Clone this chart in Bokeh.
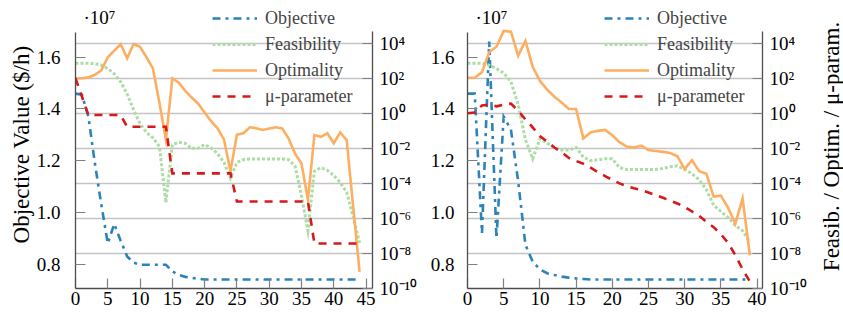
import math
from bokeh.plotting import figure
from bokeh.layouts import row
from bokeh.models import (Range1d, LogScale, LogAxis, FixedTicker, Grid, Legend,
                          LegendItem, Label, CustomJSTickFormatter, PrintfTickFormatter)
from bokeh.embed import file_html
from bokeh.resources import INLINE

FONT = "Liberation Serif"
BLUE = "#2b83ba"
GREEN = "#abdda4"
ORANGE = "#fdae61"
RED = "#d7191c"
AXIS_COLOR = "#4d4d4d"
TICK_COLOR = "#808080"
GRID_COLOR = "#c4c4c4"

# ---------------- data ----------------
# Objective value in units of 1e7 $/h; the other series as log10 of the value
series_names = ["Objective", "Feasibility", "Optimality", "\u03bc-parameter"]

# left run: iterations 0..44
objective_left = [1.459, 1.455, 1.37, 1.19, 1.03, 0.88, 0.956, 0.89, 0.83, 0.806,
                  0.798, 0.798, 0.798, 0.798, 0.798, 0.772, 0.758, 0.751, 0.747, 0.744,
                  0.741, 0.741, 0.741, 0.741, 0.741, 0.741, 0.741, 0.741, 0.741, 0.741,
                  0.741, 0.741, 0.741, 0.741, 0.741, 0.741, 0.741, 0.741, 0.741, 0.741,
                  0.741, 0.741, 0.741, 0.741, 0.741]
feasibility_left_log10 = [2.86, 2.86, 2.86, 2.83, 2.75, 2.55, 2.25, 1.8, 1.1, 0.2,
                          -0.6, -1.1, -1.4, -1.9, -5.1, -1.8, -1.65, -1.72, -2.0, -2.0,
                          -1.78, -1.98, -2.3, -2.8, -3.7, -2.8, -2.65, -2.61, -2.61, -2.61,
                          -2.61, -2.61, -2.61, -2.65, -3.0, -4.7, -6.7, -3.3, -3.1, -3.25,
                          -3.55, -3.95, -4.5, -5.9, -7.4]
optimality_left_log10 = [2.0, 2.0, 2.05, 2.2, 2.45, 3.2, 3.58, 3.94, 3.14, 3.96,
                         3.8, 3.2, 2.55, 0.6, -1.5, 2.0, 1.75, 1.28, 0.9, 0.55,
                         0.05, -0.45, -0.86, -1.5, -3.3, -1.22, -1.14, -0.8, -0.85, -0.95,
                         -0.87, -0.8, -0.86, -1.43, -2.3, -2.86, -4.95, -1.24, -1.34, -1.14,
                         -1.71, -1.09, -1.53, -5.3, -9.05]
mu_left_log10 = [2.0, 0.95, -0.1, -0.1, -0.1, -0.1, -0.1, -0.1, -0.77, -0.77,
                 -0.77, -0.77, -0.77, -0.77, -0.77, -3.43, -3.43, -3.43, -3.43, -3.43,
                 -3.43, -3.43, -3.43, -3.43, -3.43, -5.03, -5.03, -5.03, -5.03, -5.03,
                 -5.03, -5.03, -5.03, -5.03, -5.03, -5.03, -5.03, -7.43, -7.43, -7.43,
                 -7.43, -7.43, -7.43, -7.43, -7.43]

# right run: iterations 0..39
objective_right = [1.459, 1.459, 0.92, 1.66, 0.90, 1.37, 1.32, 1.12, 0.875, 0.81,
                   0.78, 0.765, 0.758, 0.752, 0.748, 0.745, 0.743, 0.741, 0.741, 0.741,
                   0.741, 0.741, 0.741, 0.741, 0.741, 0.741, 0.741, 0.741, 0.741, 0.741,
                   0.741, 0.741, 0.741, 0.741, 0.741, 0.741, 0.741, 0.741, 0.741, 0.741]
feasibility_right_log10 = [2.86, 2.86, 2.86, 2.75, 2.55, 2.3, 1.8, 0.5, -1.5, -2.6,
                           -1.45, -1.7, -1.95, -2.1, -2.1, -1.95, -2.5, -2.7, -2.65, -2.6,
                           -2.6, -3.1, -3.2, -3.2, -3.2, -3.2, -3.2, -3.15, -3.05, -3.0,
                           -3.2, -3.45, -3.8, -4.35, -5.25, -5.6, -5.95, -6.4, -6.7, -7.35]
optimality_right_log10 = [2.03, 2.03, 2.35, 3.5, 3.8, 4.7, 4.66, 3.29, 4.13, 2.66,
                          1.85, 1.35, 0.95, 0.62, 0.25, 0.25, -1.43, -1.09, -1.0, -0.95,
                          -1.25, -1.65, -1.9, -1.95, -1.85, -2.1, -2.15, -2.2, -2.27, -2.45,
                          -3.18, -2.67, -3.3, -3.45, -4.75, -4.7, -5.4, -6.3, -4.86, -8.1]
mu_right_log10 = [0.0, 0.05, 0.45, 0.5, 0.4, 0.5, 0.55, 0.15, -0.35, -0.8,
                  -1.3, -1.62, -1.95, -2.22, -2.55, -2.72, -2.88, -3.1, -3.35, -3.58,
                  -3.8, -4.0, -4.15, -4.28, -4.38, -4.52, -4.67, -4.82, -4.98, -5.15,
                  -5.35, -5.6, -5.85, -6.2, -6.5, -6.9, -7.4, -8.1, -8.9, -9.6]

x_ticks_left = [0, 5, 10, 15, 20, 25, 30, 35, 40, 45]
x_ticks_right = [0, 5, 10, 15, 20, 25, 30, 35, 40]
objective_ticks = [0.8, 1.0, 1.2, 1.4, 1.6]
log_ticks = [1e-10, 1e-8, 1e-6, 1e-4, 1e-2, 1e0, 1e2, 1e4]

# axis extents (the axes stop at the top of the plotted box; the legend sits above it)
LIN_VIEW = (0.706, 1.819)
LIN_BOUNDS = (0.706, 1.697)
LOG_VIEW = (1e-10, 10 ** 6.44)
LOG_BOUNDS = (1e-10, 10 ** 4.66)

SUP_JS = """
const sup = {"-": "\u207b", "0": "\u2070", "1": "\u00b9", "2": "\u00b2", "3": "\u00b3",
             "4": "\u2074", "5": "\u2075", "6": "\u2076", "7": "\u2077", "8": "\u2078", "9": "\u2079"};
const e = Math.round(Math.log10(tick));
return "10" + String(e).split("").map(c => sup[c]).join("");
"""


def style_axis(ax, standoff):
    ax.axis_line_color = AXIS_COLOR
    ax.axis_line_width = 1.3
    ax.major_tick_line_color = TICK_COLOR
    ax.major_tick_line_width = 1.2
    ax.major_tick_in = 10
    ax.major_tick_out = 0
    ax.minor_tick_line_color = None
    ax.major_label_text_font = FONT
    ax.major_label_text_font_size = "19px"
    ax.major_label_text_color = "black"
    ax.major_label_standoff = standoff
    ax.axis_label_text_font = FONT
    ax.axis_label_text_font_size = "23px"
    ax.axis_label_text_font_style = "normal"
    ax.axis_label_text_color = "black"


def to_values(exps):
    return [10 ** e for e in exps]


def build_panel(x_end, x_ticks, obj, feas_e, opt_e, mu_e, width, b_left, b_right,
                y_standoff, left_label):
    iters = list(range(len(obj)))
    p = figure(width=width, height=320, title=None,
               x_range=Range1d(0, x_end), y_range=Range1d(*LIN_VIEW),
               output_backend="svg", toolbar_location=None,
               min_border_left=b_left, min_border_right=b_right,
               min_border_top=0, min_border_bottom=32)
    p.outline_line_color = None
    p.background_fill_color = "white"
    p.border_fill_color = "white"
    p.extra_y_ranges = {"log": Range1d(*LOG_VIEW)}
    p.extra_y_scales = {"log": LogScale()}
    p.xgrid.visible = False
    p.ygrid.visible = False

    xa = p.xaxis[0]
    xa.ticker = FixedTicker(ticks=x_ticks)
    style_axis(xa, 3)

    ya = p.yaxis[0]
    ya.ticker = FixedTicker(ticks=objective_ticks)
    ya.formatter = PrintfTickFormatter(format="%.1f")
    ya.bounds = LIN_BOUNDS
    style_axis(ya, y_standoff)
    if left_label:
        ya.axis_label = left_label
        ya.axis_label_standoff = 0

    la = LogAxis(y_range_name="log", ticker=FixedTicker(ticks=log_ticks),
                 formatter=CustomJSTickFormatter(code=SUP_JS), bounds=LOG_BOUNDS)
    style_axis(la, 7)
    p.add_layout(la, "right")

    grid = Grid(dimension=1, ticker=la.ticker, y_range_name="log",
                grid_line_color=GRID_COLOR, grid_line_width=1.3)
    p.center.append(grid)

    r_obj = p.line(iters, obj, line_color=BLUE, line_width=2.6,
                   line_dash="8 5 3 5", line_join="miter")
    r_feas = p.line(iters, to_values(feas_e), y_range_name="log", line_color=GREEN,
                    line_width=3, line_dash="3 2", line_join="miter")
    r_opt = p.line(iters, to_values(opt_e), y_range_name="log", line_color=ORANGE,
                   line_width=2.6, line_join="miter")
    r_mu = p.line(iters, to_values(mu_e), y_range_name="log", line_color=RED,
                  line_width=2.6, line_dash="8 7", line_join="miter")

    legend = Legend(items=[LegendItem(label=n, renderers=[r])
                           for n, r in zip(series_names, [r_obj, r_feas, r_opt, r_mu])],
                    location=(137, 179), orientation="vertical",
                    background_fill_alpha=0, border_line_alpha=0,
                    label_text_font=FONT, label_text_font_size="18px",
                    glyph_width=45, glyph_height=26, label_height=26,
                    spacing=0, padding=0, margin=0, label_standoff=8)
    p.add_layout(legend)

    p.add_layout(Label(x=8, y=271, x_units="screen", y_units="screen", text="\u00b710\u2077",
                       text_font=FONT, text_font_size="19px", text_baseline="middle",
                       text_align="left", text_color="black"))
    return p


p_left = build_panel(46, x_ticks_left, objective_left, feasibility_left_log10,
                     optimality_left_log10, mu_left_log10, 425, 75, 53, 15,
                     "Objective Value ($/h)")
p_right = build_panel(40.75, x_ticks_right, objective_right, feasibility_right_log10,
                      optimality_right_log10, mu_right_log10, 389, 42, 52, 13, None)

# right-hand axis title, reading bottom to top
p_title = figure(width=29, height=320, title=None, x_range=Range1d(0, 1), y_range=Range1d(0, 1),
                 x_axis_type=None, y_axis_type=None, output_backend="svg",
                 toolbar_location=None, min_border=0)
p_title.outline_line_color = None
p_title.add_layout(Label(x=17, y=142, x_units="screen", y_units="screen",
                         text="Feasib. / Optim. / \u03bc-param.", angle=math.pi / 2,
                         text_font=FONT, text_font_size="23px", text_align="center",
                         text_baseline="middle", text_color="black"))

layout = row(p_left, p_right, p_title)
open("out.html", "w").write(file_html(layout, INLINE))
